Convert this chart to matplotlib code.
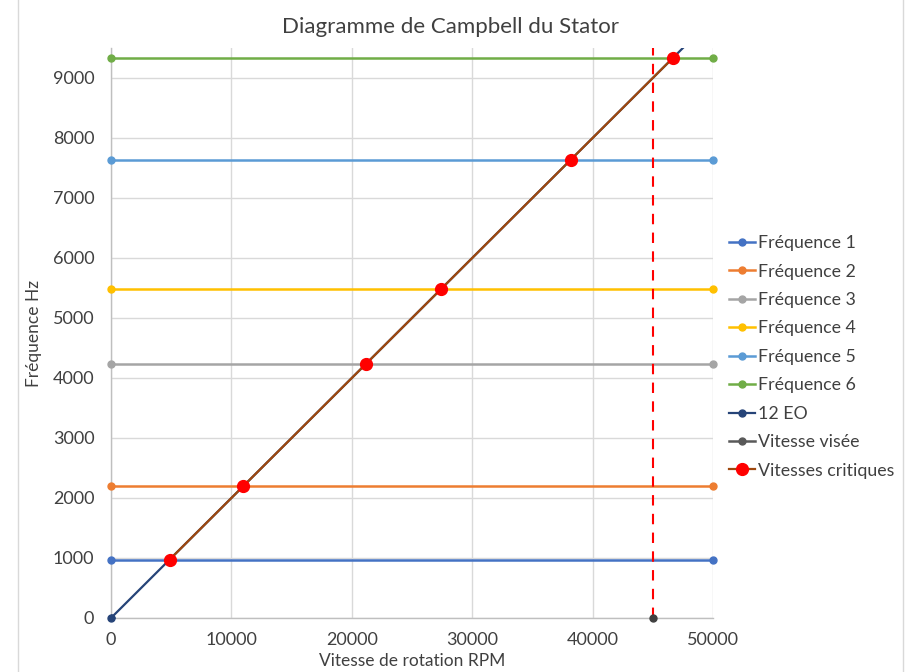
import matplotlib
matplotlib.use("Agg")
import matplotlib.pyplot as plt
from matplotlib.lines import Line2D
from matplotlib.patches import Rectangle

plt.rcParams['font.family'] = ['Lato', 'DejaVu Sans']

# Stator natural frequencies (Hz), constant over the speed range
rpm_range = [0, 50000]
freq_names = ["Fréquence 1", "Fréquence 2", "Fréquence 3",
              "Fréquence 4", "Fréquence 5", "Fréquence 6"]
freq_values = [975, 2200, 4240, 5485, 7640, 9330]
freq_colors = ["#4472C4", "#ED7D31", "#A5A5A5", "#FFC000", "#5B9BD5", "#70AD47"]

# 12th engine order excitation line
eo_rpm = [0, 50000]
eo_hz = [0, 10000]

# Target speed
target_rpm = [45000]
target_hz = [0]

# Critical speeds: crossings of 12 EO with each frequency
crit_rpm = [4875, 11000, 21200, 27425, 38200, 46650]
crit_hz = [975, 2200, 4240, 5485, 7640, 9330]

fig = plt.figure(figsize=(9.15, 6.72), dpi=100)
ax = fig.add_axes([111/915, 1 - 618/672, (713-111)/915, (618-48)/672])

txt_c = "#404040"
grid_c = "#D9D9D9"
ax.set_xlim(0, 50000)
ax.set_ylim(0, 9500)
ax.set_xticks(range(0, 50001, 10000))
ax.set_yticks(range(0, 9001, 1000))
ax.grid(True, color=grid_c, linewidth=1)
ax.set_axisbelow(True)
for s in ["top", "right"]:
    ax.spines[s].set_visible(False)
for s in ["left", "bottom"]:
    ax.spines[s].set_color("#BFBFBF")
    ax.spines[s].set_linewidth(1)
ax.tick_params(length=0, labelsize=13, labelcolor=txt_c)
ax.tick_params(axis="y", pad=12)
ax.tick_params(axis="x", pad=10)

handles = []
for name, v, c in zip(freq_names, freq_values, freq_colors):
    ln, = ax.plot(rpm_range, [v, v], color=c, lw=1.8, marker="o", ms=5,
                  clip_on=False, zorder=3, label=name)
    handles.append(ln)

eo, = ax.plot(eo_rpm, eo_hz, color="#264478", lw=1.6, marker="o", ms=5,
              zorder=3, label="12 EO")
ax.plot(eo_rpm[:1], eo_hz[:1], "o", color="#264478", ms=5, clip_on=False, zorder=5)
handles.append(eo)

# Target speed marker and dashed line
ax.axvline(target_rpm[0], color="#FF0000", lw=1.5, ls=(0, (5, 4)), zorder=4)
ax.plot(target_rpm, target_hz, "o", color="#404040", ms=5, clip_on=False, zorder=5)
handles.append(Line2D([], [], color="#595959", lw=1.8, marker="o", ms=5,
                      label="Vitesse visée"))

crit, = ax.plot(crit_rpm, crit_hz, color="#9E480E", lw=1.6, marker="o", ms=8.5,
                mfc="#FF0000", mec="#FF0000", zorder=6, label="Vitesses critiques")
handles.append(crit)

fig.text(451/915, 1 - 27/672, "Diagramme de Campbell du Stator", fontsize=16,
         color=txt_c, ha="center", va="center")
ax.set_xlabel("Vitesse de rotation RPM", fontsize=12.5, color=txt_c, labelpad=4)
ax.set_ylabel("Fréquence Hz", fontsize=12.5, color=txt_c, labelpad=8)

leg = fig.legend(handles=handles, loc="upper left",
                 bbox_to_anchor=(722/915, 1 - 228/672), frameon=False,
                 fontsize=12.8, handlelength=1.45, handletextpad=0.2,
                 labelspacing=0.7, borderaxespad=0)
for t in leg.get_texts():
    t.set_color(txt_c)

# Chart frame
fig.patches.append(Rectangle((18/915, -0.01), (903-18)/915, 1.02,
                             transform=fig.transFigure, fill=False,
                             edgecolor="#D9D9D9", lw=1))

fig.savefig("out.png", dpi=100)
